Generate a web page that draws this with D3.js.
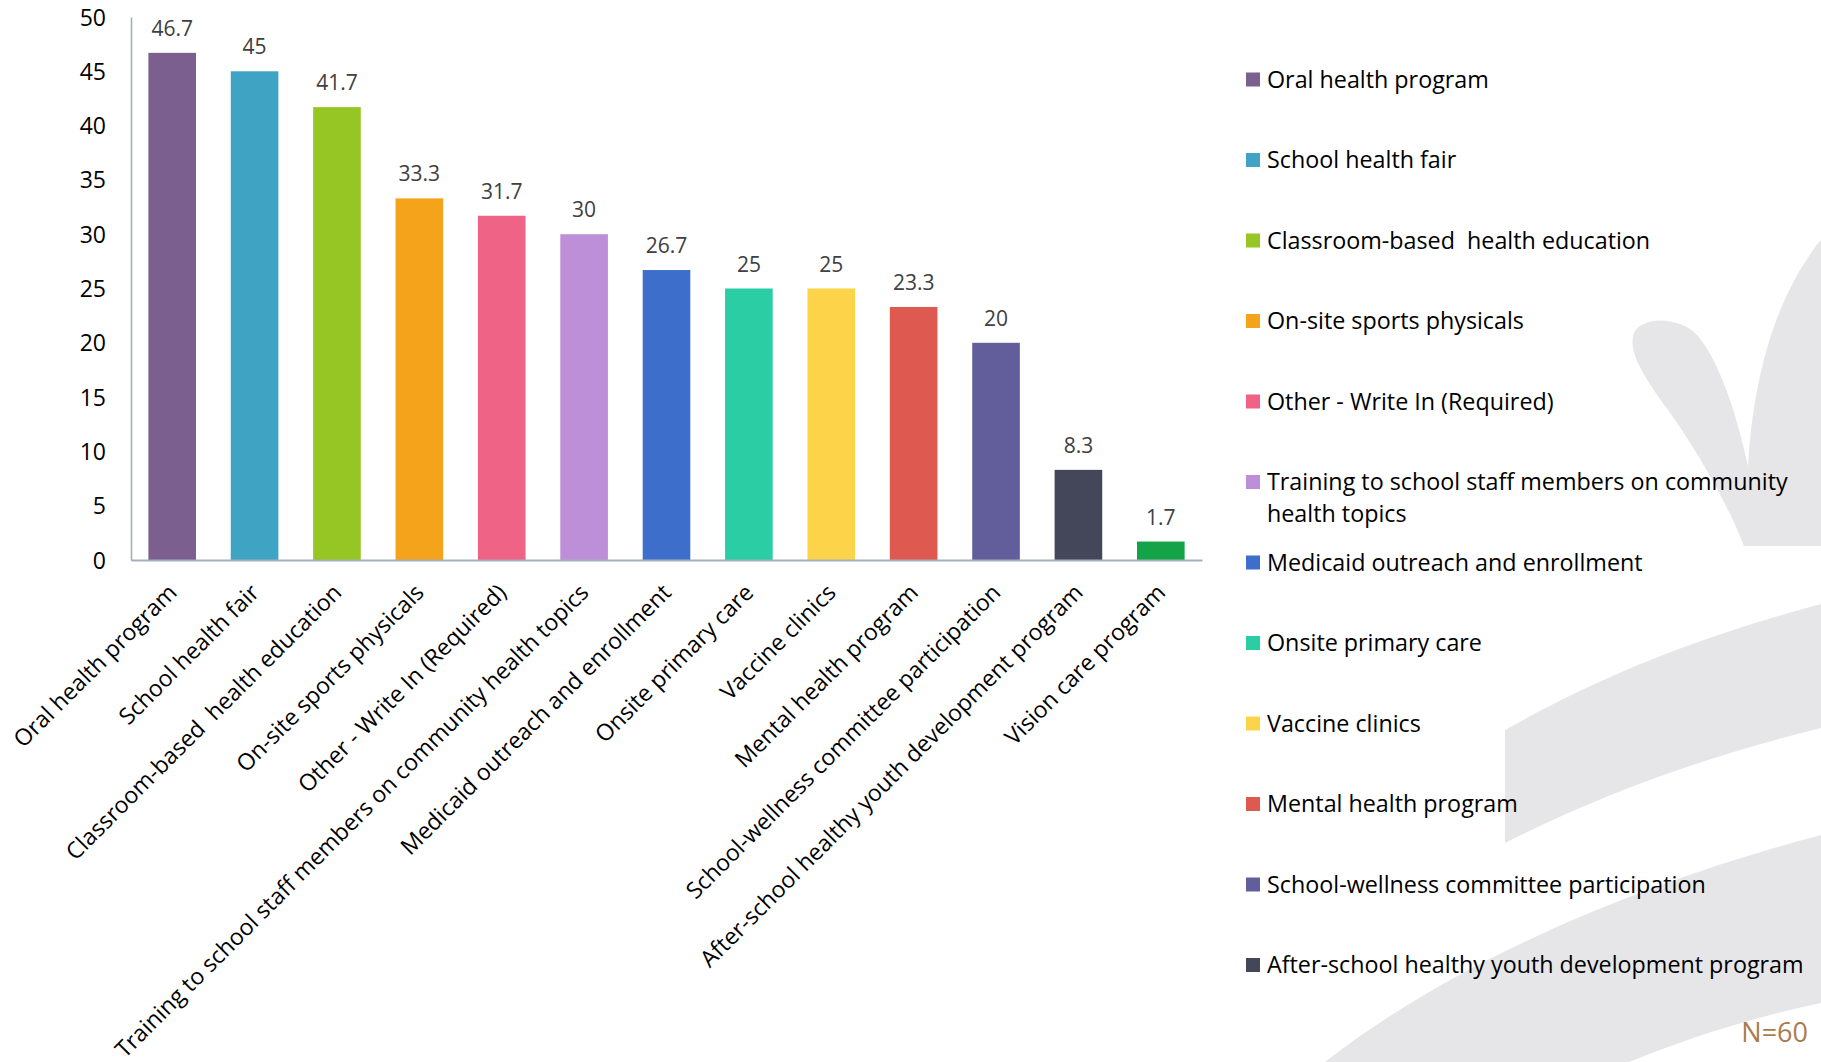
<!DOCTYPE html>
<html>
<head>
<meta charset="utf-8">
<script src="https://cdn.jsdelivr.net/npm/d3@7"></script>
<style>
  html, body { margin: 0; padding: 0; background: #ffffff; }
  svg { display: block; font-family: "Open Sans", sans-serif; }
</style>
</head>
<body>
<svg id="chart" width="1821" height="1062"></svg>
<script>
// ---------------- DATA ----------------
const categories = [
  "Oral health program",
  "School health fair",
  "Classroom-based  health education",
  "On-site sports physicals",
  "Other - Write In (Required)",
  "Training to school staff members on community health topics",
  "Medicaid outreach and enrollment",
  "Onsite primary care",
  "Vaccine clinics",
  "Mental health program",
  "School-wellness committee participation",
  "After-school healthy youth development program",
  "Vision care program"
];
const values = [46.7, 45, 41.7, 33.3, 31.7, 30, 26.7, 25, 25, 23.3, 20, 8.3, 1.7];
const barColors = [
  "#7b5f8e", "#3fa3c4", "#95c623", "#f4a31b", "#ef6486", "#bd8fd8",
  "#3e6ecb", "#2bcea4", "#fdd449", "#de5a51", "#625e9c", "#434759", "#14a447"
];
const yTicks = [0, 5, 10, 15, 20, 25, 30, 35, 40, 45, 50];
const legendShown = 12;          // the legend in the reference lists the first 12 entries
const noteText = "N=60";

// ---------------- SETUP ----------------
const svg = d3.select("#chart");
const W = 1821, H = 1062;

svg.append("rect").attr("width", W).attr("height", H).attr("fill", "#ffffff");

// decorative background watermark (light gray shapes)
const deco = svg.append("g").attr("fill", "#e6e6e8");
deco.append("path").attr("d",
  "M1744,546 C1728,505 1700,455 1668,410 C1645,378 1627,352 1634,333 " +
  "C1642,316 1680,316 1698,336 C1718,360 1736,410 1748,466 " +
  "C1752,400 1765,330 1800,270 C1808,258 1815,246 1821,240 L1821,546 Z");
deco.append("path").attr("d",
  "M1505,730 C1560,700 1650,650 1821,604 L1821,728 C1700,758 1600,795 1505,843 Z");
deco.append("path").attr("d",
  "M1821,835 C1650,880 1450,960 1315,1070 L1610,1070 C1680,1040 1750,1018 1821,1003 Z");

// scales
const x = d3.scaleBand()
  .domain(categories)
  .range([131, 1202])
  .paddingInner(0.422)
  .paddingOuter(0.211);

const y = d3.scaleLinear().domain([0, 50]).range([560, 17]);

const axisColor = "#a3afbb";

// y axis
const yAxis = svg.append("g")
  .attr("transform", "translate(131,0)")
  .call(d3.axisLeft(y).tickValues(yTicks).tickSize(0).tickSizeOuter(0).tickPadding(25));
yAxis.select(".domain").attr("stroke", axisColor).attr("stroke-width", 1.6);
yAxis.selectAll("text")
  .attr("font-family", "'Open Sans', sans-serif")
  .attr("font-size", 23)
  .attr("fill", "#000000")
  .attr("dy", "0.35em");

// bars
svg.append("g").selectAll("rect")
  .data(values)
  .join("rect")
  .attr("x", (d, i) => x(categories[i]))
  .attr("y", d => y(d))
  .attr("width", x.bandwidth())
  .attr("height", d => y(0) - y(d))
  .attr("fill", (d, i) => barColors[i]);

// data labels
svg.append("g").selectAll("text")
  .data(values)
  .join("text")
  .attr("x", (d, i) => x(categories[i]) + x.bandwidth() / 2)
  .attr("y", d => y(d) - 17)
  .attr("text-anchor", "middle")
  .attr("font-size", 21)
  .attr("fill", "#404040")
  .text(d => d);

// x axis
const xAxis = svg.append("g")
  .attr("transform", `translate(0,${y(0)})`)
  .call(d3.axisBottom(x).tickSize(0).tickSizeOuter(0));
xAxis.select(".domain").attr("stroke", axisColor).attr("stroke-width", 2);
xAxis.selectAll("text")
  .attr("font-family", "'Open Sans', sans-serif")
  .attr("font-size", 23)
  .attr("fill", "#000000")
  .attr("x", 0).attr("y", 0).attr("dy", 0)
  .attr("text-anchor", "end")
  .style("white-space", "pre")
  .attr("transform", "translate(6,34) rotate(-45)");

// legend
const legendX = 1246, legendTextX = 1267, legendY0 = 79.5, legendStep = 80.5, legendMaxW = 550;
const legend = svg.append("g");
categories.slice(0, legendShown).forEach((name, i) => {
  const cy = legendY0 + i * legendStep;
  legend.append("rect")
    .attr("x", legendX).attr("y", cy - 7)
    .attr("width", 14).attr("height", 14)
    .attr("fill", barColors[i]);
  const t = legend.append("text")
    .attr("x", legendTextX).attr("y", cy)
    .attr("dy", "0.35em")
    .attr("font-size", 23.3)
    .attr("fill", "#000000")
    .style("white-space", "pre");
  // wrap to legendMaxW
  const words = name.split(" ");
  let line = [];
  let tspan = t.append("tspan").attr("x", legendTextX);
  words.forEach(w => {
    line.push(w);
    tspan.text(line.join(" "));
    if (tspan.node().getComputedTextLength() > legendMaxW && line.length > 1) {
      line.pop();
      tspan.text(line.join(" "));
      line = [w];
      tspan = t.append("tspan").attr("x", legendTextX).attr("dy", "1.35em").text(w);
    }
  });
});

// note
svg.append("text")
  .attr("x", 1808).attr("y", 1042)
  .attr("text-anchor", "end")
  .attr("font-size", 27)
  .attr("fill", "#a97c50")
  .text(noteText);
</script>
</body>
</html>
